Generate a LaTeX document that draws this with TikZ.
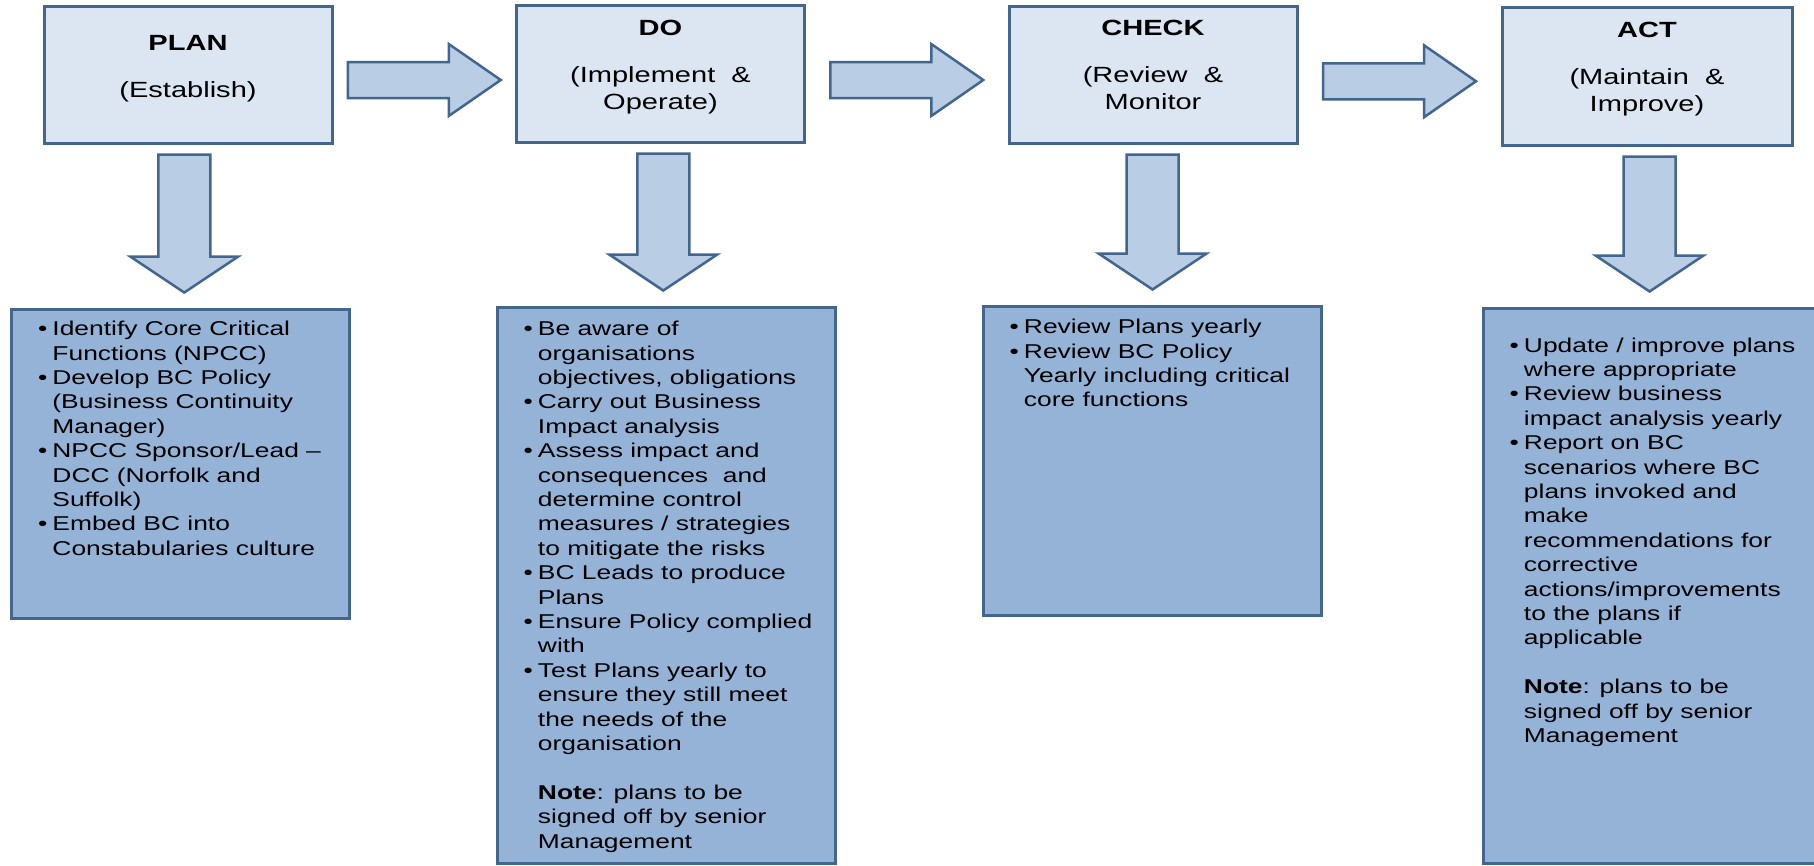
\documentclass[tikz,border=0pt]{standalone}
\usepackage{fontspec}
\setmainfont{Liberation Sans}[FakeStretch=1.32]
\usetikzlibrary{calc,positioning}

\definecolor{boxtop}{HTML}{DCE6F2}
\definecolor{boxbottom}{HTML}{95B3D7}
\definecolor{arrowfill}{HTML}{B9CDE5}
\definecolor{boxline}{HTML}{43668F}

\tikzset{
	phase/.style={draw=boxline, fill=boxtop, line width=3pt, minimum width=288pt, minimum height=137pt, inner sep=0pt},
	tasks/.style={draw=boxline, fill=boxbottom, line width=3pt, minimum width=338pt, inner sep=0pt},
	blockarrow/.style={draw=boxline, fill=arrowfill, line width=2.5pt, line join=miter},
	phasetext/.style={align=center, font=\fontsize{22}{27}\selectfont, inner sep=0pt, anchor=north},
	tasktext/.style={font=\fontsize{20}{24.4}\selectfont, inner sep=0pt, anchor=north west},
}

% bullet list with hanging lines
\newcommand{\tasklist}[1]{\begin{tabular}{@{}l@{\hspace{5pt}}l@{}}#1\end{tabular}}

% fat arrow between two phase boxes
\newcommand{\rightblock}[2]{%
	\draw[blockarrow] let \p1=(#1.east), \p2=(#2.west), \p3=($(\p1)!0.5!(\p2)+(0,-6pt)$) in
	(\x3-76.5,\y3+18) -- (\x3+24.5,\y3+18) -- (\x3+24.5,\y3+36) -- (\x3+76.5,\y3)
	-- (\x3+24.5,\y3-36) -- (\x3+24.5,\y3-18) -- (\x3-76.5,\y3-18) -- cycle;}

% fat arrow from a phase box down to its task box
\newcommand{\downblock}[2]{%
	\draw[blockarrow] let \p1=(#1.south), \p2=(#2.north), \p3=($(\p1)!0.5!(\p2)$) in
	(\x3-26,\y1-10) -- (\x3-26,\y2+51) -- (\x3-54,\y2+51) -- (\x3,\y2+15)
	-- (\x3+54,\y2+51) -- (\x3+26,\y2+51) -- (\x3+26,\y1-10) -- cycle;}

\begin{document}
\begin{tikzpicture}[x=1pt, y=-1pt]
	\useasboundingbox (0,0) rectangle (1814,865);
	\fill[white] (0,0) rectangle (1814,865);
	
	%Phase boxes%
	%===========================================================
	\node[phase] (plan) at (188,74.5) {};
	\node[phase] (do) at (660.5,73.5) {};
	\node[phase] (check) at (1153,74.5) {};
	\node[phase, minimum width=290pt, minimum height=138pt] (act) at (1647,76) {};
	
	\node[phasetext] (plantitle) at ([yshift=-31pt]plan.north) {\textbf{PLAN}\\[20pt](Establish)};
	\node[phasetext] (dotitle) at ([yshift=-16pt]do.north) {\textbf{DO}\\[20pt](Implement \ \&\\Operate)};
	\node[phasetext] (checktitle) at ([yshift=-15pt]check.north) {\textbf{CHECK}\\[20pt](Review \ \&\\Monitor};
	\node[phasetext] (acttitle) at ([yshift=-16pt]act.north) {\textbf{ACT}\\[20pt](Maintain \ \&\\Improve)};
	
	%Task boxes%
	%===========================================================
	\node[tasks, minimum height=309pt] (planbox) at (180.5,463.5) {};
	\node[tasks, minimum height=556pt] (dobox) at (666,585) {};
	\node[tasks, minimum height=309pt] (checkbox) at (1152,460.5) {};
	\node[tasks, minimum height=555pt] (actbox) at (1652,585.5) {};
	
	%Arrows%
	%===========================================================
	\rightblock{plan}{do} % plan -> do
	\rightblock{do}{check} % do -> check
	\rightblock{check}{act} % check -> act
	
	\downblock{plan}{planbox}
	\downblock{do}{dobox}
	\downblock{check}{checkbox}
	\downblock{act}{actbox}
	
	%Task texts%
	%===========================================================
	\node[tasktext] (plantasks) at ([xshift=28pt,yshift=-11pt]planbox.north west) {\tasklist{
		\textbullet & Identify Core Critical\\
		& Functions (NPCC)\\
		\textbullet & Develop BC Policy\\
		& (Business Continuity\\
		& Manager)\\
		\textbullet & NPCC Sponsor/Lead --\\
		& DCC (Norfolk and\\
		& Suffolk)\\
		\textbullet & Embed BC into\\
		& Constabularies culture}};
	
	\node[tasktext] (dotasks) at ([xshift=28pt,yshift=-13pt]dobox.north west) {\tasklist{
		\textbullet & Be aware of\\
		& organisations\\
		& objectives, obligations\\
		\textbullet & Carry out Business\\
		& Impact analysis\\
		\textbullet & Assess impact and\\
		& consequences \ and\\
		& determine control\\
		& measures / strategies\\
		& to mitigate the risks\\
		\textbullet & BC Leads to produce\\
		& Plans\\
		\textbullet & Ensure Policy complied\\
		& with\\
		\textbullet & Test Plans yearly to\\
		& ensure they still meet\\
		& the needs of the\\
		& organisation\\
		& \\
		& \textbf{Note}: plans to be\\
		& signed off by senior\\
		& Management}};
	
	\node[tasktext] (checktasks) at ([xshift=28pt,yshift=-12pt]checkbox.north west) {\tasklist{
		\textbullet & Review Plans yearly\\
		\textbullet & Review BC Policy\\
		& Yearly including critical\\
		& core functions}};
	
	\node[tasktext] (acttasks) at ([xshift=28pt,yshift=-4pt]actbox.north west) {\tasklist{
		& \\
		\textbullet & Update / improve plans\\
		& where appropriate\\
		\textbullet & Review business\\
		& impact analysis yearly\\
		\textbullet & Report on BC\\
		& scenarios where BC\\
		& plans invoked and\\
		& make\\
		& recommendations for\\
		& corrective\\
		& actions/improvements\\
		& to the plans if\\
		& applicable\\
		& \\
		& \textbf{Note}: plans to be\\
		& signed off by senior\\
		& Management}};
\end{tikzpicture}
\end{document}
